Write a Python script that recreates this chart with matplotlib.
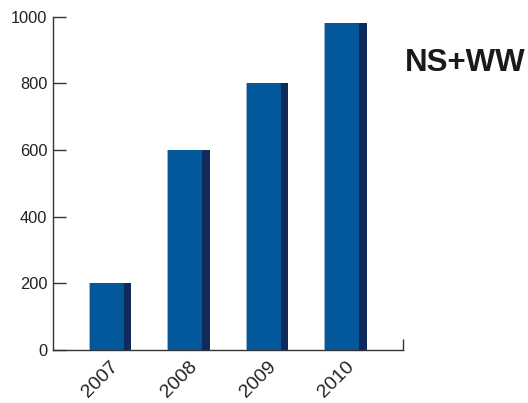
import matplotlib
matplotlib.use('Agg')
import matplotlib.pyplot as plt
import matplotlib.transforms as mtransforms
import numpy as np

# data
years = ['2007', '2008', '2009', '2010']
values = [200, 600, 800, 980]
y_ticks = [0, 200, 400, 600, 800, 1000]
title = 'NS+WW'

plt.rcParams['font.family'] = ['Liberation Sans', 'DejaVu Sans']

fig = plt.figure(figsize=(5.28, 4.03), dpi=100)
ax = fig.add_axes([0.1004, 0.1315, 0.6625, 0.8270])

x = np.arange(len(years))
front_w = 0.446
side_w = 0.10
front_x = x - (front_w + side_w) / 2 + front_w / 2
side_x = front_x + front_w / 2 + side_w / 2

# front faces, dark side faces, thin light edge on the left
ax.bar(front_x, values, width=front_w, color='#03589b', linewidth=0, zorder=2)
ax.bar(side_x, values, width=side_w, color='#112a5c', linewidth=0, zorder=2)
ax.bar(front_x - front_w / 2 + 0.006, values, width=0.012, color='#9fb2cc',
       linewidth=0, zorder=3)

ax.set_xlim(-0.726, 3.73)
ax.set_ylim(0, 1000)
ax.set_yticks(y_ticks)
ax.set_xticks(x)
ax.set_xticklabels(years, rotation=45, ha='right', rotation_mode='anchor')
ax.set_xticks([3.73], minor=True)

# nudge the rotated year labels left a little
shift = mtransforms.ScaledTranslation(-7 / 100, 0, fig.dpi_scale_trans)
for lab in ax.get_xticklabels():
    lab.set_transform(lab.get_transform() + shift)

for side in ['top', 'right']:
    ax.spines[side].set_visible(False)
for side in ['left', 'bottom']:
    ax.spines[side].set_color('#333333')
    ax.spines[side].set_linewidth(1.0)

ax.tick_params(axis='y', direction='in', length=9, width=1, color='#333333',
               labelsize=11.8, labelcolor='#222222', pad=4)
ax.tick_params(axis='x', which='major', length=0, labelsize=14,
               labelcolor='#222222', pad=6)
ax.tick_params(axis='x', which='minor', direction='in', length=8, width=1,
               color='#333333')

fig.text(0.766, 0.843, title, fontsize=22.5, fontweight='bold', color='#1a1a1a',
         ha='left', va='center')

plt.savefig('out.png', dpi=100)
plt.close()
